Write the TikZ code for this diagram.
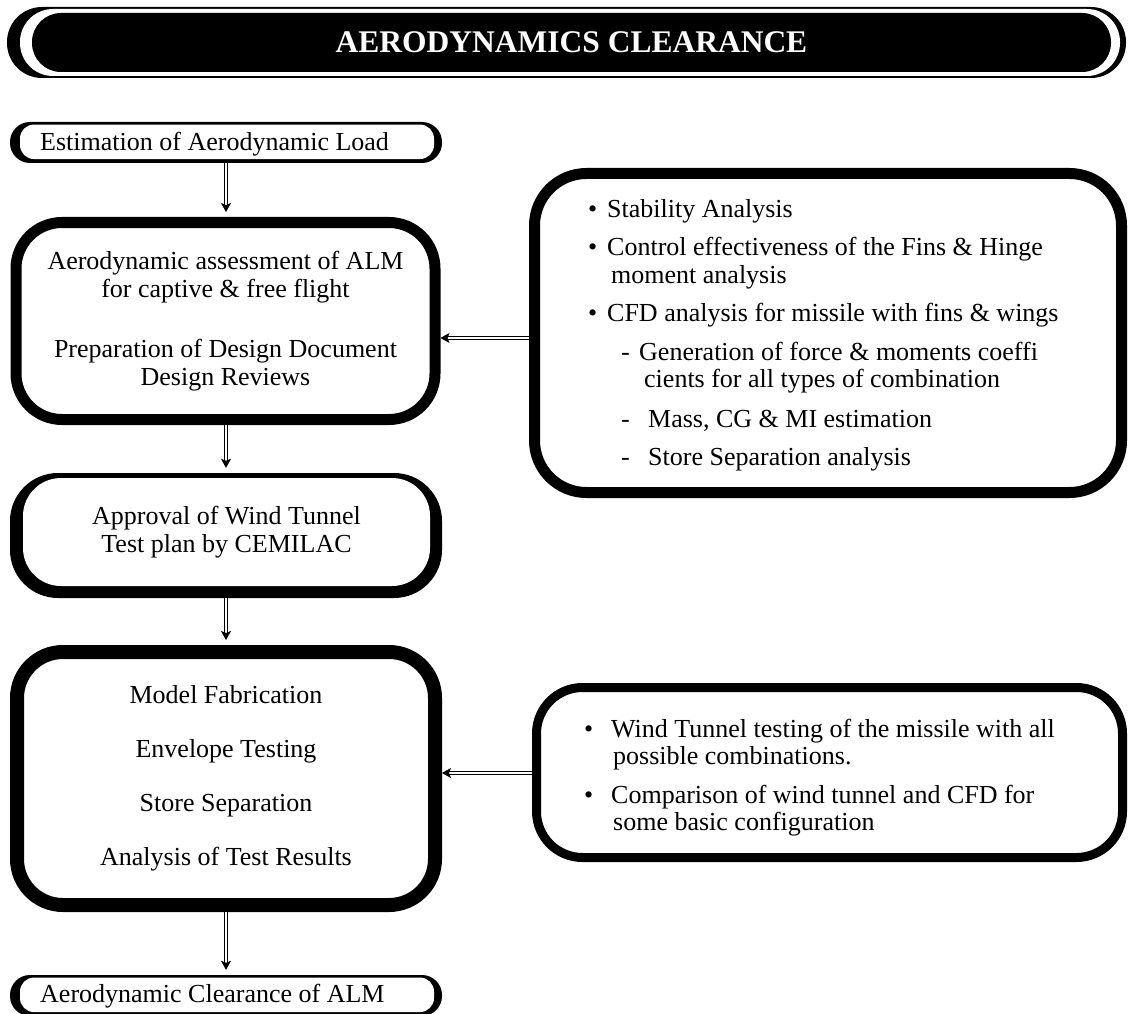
\documentclass[tikz,border=0pt]{standalone}
\usepackage{fontspec}
\setmainfont{Liberation Serif}
\usetikzlibrary{arrows.meta}
\begin{document}
\begin{tikzpicture}[x=1pt,y=-1pt,
  txt/.style={font=\fontsize{26}{28}\selectfont},
  bigbox/.style={draw=black, fill=white, rounded corners=#1, inner sep=0pt, txt, align=center},
  termout/.style={fill=black, rounded corners=20pt, inner sep=0pt, minimum width=432pt, minimum height=41pt},
  termin/.style={fill=white, rounded corners=14pt, inner sep=0pt, minimum width=414pt, minimum height=34.5pt},
  arr/.style={double, double distance=2.2pt, line width=0.8pt, -{Stealth[length=9pt,width=10pt,inset=2pt]}},
  varr/.style={arr, shorten >=5pt},
  blist/.style={txt, align=left, inner sep=0pt, anchor=north west}
]
\useasboundingbox (0,0) rectangle (1128,1014);

% title
\node[fill=black, rounded corners=35pt, minimum width=1119pt, minimum height=71pt, inner sep=0pt] (frame) at (566.5,42.5) {};
\node[fill=white, rounded corners=33pt, minimum width=1100pt, minimum height=67pt, inner sep=0pt] (framein) at (570,42.5) {};
\node[fill=black, rounded corners=29pt, minimum width=1079pt, minimum height=59pt, inner sep=0pt,
      text=white, font=\fontsize{31.5}{34}\selectfont\bfseries] (title) at (571.5,42.5) {AERODYNAMICS CLEARANCE};

% start terminal
\node[termout] (t1) at (226,142.5) {};
\node[termin] (t1in) at (227,141.8) {};
\node[txt, anchor=base west, inner sep=0pt] (t1txt) at (40,150.7) {Estimation of Aerodynamic Load};

% box 2
\node[bigbox=46pt, line width=11pt, minimum width=419pt, minimum height=197pt] (b2) at (225.5,321)
 {Aerodynamic assessment of ALM\\for captive \& free flight\\[32pt]Preparation of Design Document\\Design Reviews};

% box 3 (shadowed border)
\node[fill=black, rounded corners=48pt, inner sep=0pt, minimum width=432pt, minimum height=125pt] (b3) at (226,535.5) {};
\node[fill=white, rounded corners=38pt, inner sep=0pt, minimum width=407pt, minimum height=108pt, txt, align=center] (b3in) at (226.5,532)
 {Approval of Wind Tunnel\\Test plan by CEMILAC};

% box 4
\node[bigbox=46pt, line width=14pt, minimum width=418pt, minimum height=253pt] (b4) at (226,778.5)
 {Model Fabrication\\[26pt]Envelope Testing\\[26pt]Store Separation\\[26pt]Analysis of Test Results};

% end terminal
\node[termout] (t2) at (226,995.5) {};
\node[termin] (t2in) at (227,994.8) {};
\node[txt, anchor=base west, inner sep=0pt] (t2txt) at (40,1002.7) {Aerodynamic Clearance of ALM};

% right box 1
\node[draw=black, fill=white, rounded corners=52pt, line width=11pt, minimum width=587pt, minimum height=319pt] (r1) at (828,333) {};
\node[blist, font=\fontsize{26}{27.5}\selectfont] (r1txt) at (588,199) {%
\makebox[19pt][l]{\textbullet}Stability Analysis\\[11pt]
\makebox[19pt][l]{\textbullet}Control effectiveness of the Fins \& Hinge\\
\hspace*{23pt}moment analysis\\[11pt]
\makebox[19pt][l]{\textbullet}CFD analysis for missile with fins \& wings\\[11pt]
\hspace*{33pt}\makebox[18pt][l]{-}Generation of force \& moments coeffi\\
\hspace*{56pt}cients for all types of combination\\[12pt]
\hspace*{33pt}\makebox[27pt][l]{-}Mass, CG \& MI estimation\\[11pt]
\hspace*{33pt}\makebox[27pt][l]{-}Store Separation analysis};

% right box 2
\node[draw=black, fill=white, rounded corners=46pt, line width=9pt, minimum width=586pt, minimum height=170pt] (r2) at (829.5,772.5) {};
\node[blist, font=\fontsize{26}{26.5}\selectfont] (r2txt) at (584,719) {%
\makebox[27pt][l]{\textbullet}Wind Tunnel testing of the missile with all\\
\hspace*{29pt}possible combinations.\\[13pt]
\makebox[27pt][l]{\textbullet}Comparison of wind tunnel and CFD for\\
\hspace*{29pt}some basic configuration};

% connectors
\draw[varr] (t1.south) -- (t1.south |- b2.north);
\draw[varr] (b2.south -| t1.south) -- (b3.north);
\draw[varr] (b3.south) -- (b4.north);
\draw[varr] (b4.south) -- (t2.north);
\draw[arr] (r1.west |- 0,338) -- (b2.east |- 0,338);
\draw[arr] (r2.west |- 0,773) -- (b4.east |- 0,773);
\end{tikzpicture}
\end{document}
